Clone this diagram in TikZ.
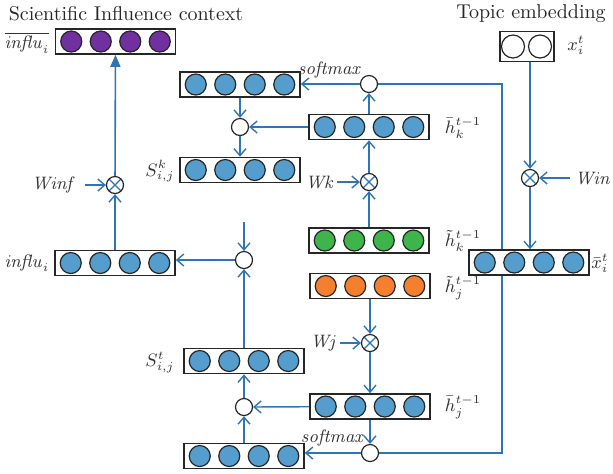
\documentclass[tikz,border=0pt]{standalone}
\usepackage{amsmath}
\usetikzlibrary{positioning, calc, arrows.meta, backgrounds}
\definecolor{Link}{HTML}{2E75B6}
\definecolor{Unit}{HTML}{549DCC}
\definecolor{Plum}{HTML}{7030A0}
\definecolor{Leaf}{HTML}{3DB54A}
\definecolor{Amber}{HTML}{F47F2E}
\tikzset{
    vecbox/.style={rectangle, draw=black!85, line width=0.8pt, fill=white, minimum width=60pt, minimum height=12.5pt, inner sep=0pt},
    unit/.style={circle, draw=black!85, line width=0.6pt, minimum size=10.5pt, inner sep=0pt},
    gate/.style={circle, draw=black!85, line width=0.6pt, fill=white, minimum size=8.5pt, inner sep=0pt},
    mult/.style={gate, path picture={\draw[Link, line width=0.6pt] (path picture bounding box.north west) -- (path picture bounding box.south east) (path picture bounding box.north east) -- (path picture bounding box.south west);}},
    link/.style={-{Straight Barb[length=3.5pt,width=6pt]}, Link, line width=0.7pt},
    flow/.style={-{Triangle[length=6pt,width=5pt]}, Link, line width=0.8pt},
    lab/.style={font=\small, text=black!80, inner sep=1pt},
}
% bar of four units: name, position, colour
\newcommand{\vecbar}[3]{%
    \node[vecbox] (#1) at (#2) {};
    \foreach \k [count=\n] in {-1.5,-0.5,0.5,1.5}
        \node[unit, fill=#3] (#1-\n) at ($(#1)+(\k*29.5,0)$) {};
}

\begin{document}
\begin{tikzpicture}[x=0.5pt, y=-0.5pt]
\useasboundingbox (0,0) rectangle (613,473);

% Titles
\node[font=\normalsize, text=black!85] (title-inf) at (126,14) {Scientific Influence context};
\node[font=\normalsize, text=black!85] (title-top) at (531,14) {Topic embedding};

% Influence side
\vecbar{influbar}{115.5,41.5}{Plum}
\node[lab] (l-influbar) at (27,43) {$\overline{\mathit{influ}_i}$};
\node[mult] (mulinf) at (115,185) {};
\node[lab] (l-winf) at (54,185) {$\mathit{Winf}$};
\coordinate (in-winf) at (85,185);
\vecbar{influ}{115,263}{Unit}
\node[lab] (l-influ) at (27,263) {$\mathit{influ}_i$};

% Upper attention (k)
\vecbar{attk}{240,84.5}{Unit}
\node[lab] (l-smk) at (330,70) {$\mathit{softmax}$};
\node[gate] (smk) at (369,84) {};
\vecbar{hkbar}{369,127}{Unit}
\node[lab] (l-hkbar) at (463,128) {$\bar{h}_k^{t-1}$};
\node[gate] (mixk) at (240,127) {};
\vecbar{sk}{240,170}{Unit}
\node[lab] (l-sk) at (160,171) {$S_{i,j}^{k}$};
\node[mult] (mulk) at (369,182) {};
\node[lab] (l-wk) at (320,182) {$\mathit{Wk}$};
\coordinate (in-wk) at (337,182);
\vecbar{hktil}{369,240.5}{Leaf}
\node[lab] (l-hktil) at (463,241) {$\tilde{h}_k^{t-1}$};

% Lower attention (j)
\node[gate] (mixj) at (244,260) {};
\coordinate (in-mixj) at (244,222);
\vecbar{hjtil}{370,286}{Amber}
\node[lab] (l-hjtil) at (463,288) {$\tilde{h}_j^{t-1}$};
\node[mult] (mulj) at (370,343) {};
\node[lab] (l-wj) at (324,343) {$\mathit{Wj}$};
\coordinate (in-wj) at (340,343);
\vecbar{st}{244,361}{Unit}
\node[lab] (l-st) at (160,362) {$S_{i,j}^{t}$};
\vecbar{hjbar}{370,406.5}{Unit}
\node[lab] (l-hjbar) at (463,407) {$\bar{h}_j^{t-1}$};
\node[gate] (mixt) at (244,407) {};
\vecbar{attj}{244,456}{Unit}
\node[lab] (l-smj) at (333,438) {$\mathit{softmax}$};
\node[gate] (smj) at (370,453) {};

% Topic side
\node[vecbox, minimum width=27pt, minimum height=15pt] (topic) at (527,46.5) {};
\node[unit, fill=white, minimum size=11.5pt] (topic-1) at (513,46.5) {};
\node[unit, fill=white, minimum size=11.5pt] (topic-2) at (540,46.5) {};
\node[lab] (l-topic) at (576,45) {$x_i^t$};
\node[mult] (mulin) at (530,178) {};
\node[lab] (l-win) at (593,178) {$\mathit{Win}$};
\coordinate (in-win) at (570,178);
\vecbar{xbar}{529,262.5}{Unit}
\node[lab] (l-xbar) at (600,263) {$\bar{x}_i^t$};

% Connectors
\coordinate (route) at (502,270);
\begin{pgfonlayer}{background}
\draw[Link, line width=0.7pt] (smk.east) -| (route) |- (smj.east);
\end{pgfonlayer}
\draw[flow] (mulinf) -- (influbar);
\draw[link] (influ) -- (mulinf);
\draw[link] (in-winf) -- (mulinf);
\draw[link] (mixj) -- (influ.east |- mixj);
\draw[link] (in-mixj) -- (mixj);
\draw[link] (st) -- (mixj);
\draw[link] (attk) -- (mixk);
\draw[link] (hkbar) -- (mixk);
\draw[link] (mixk) -- (sk);
\draw[link] (hkbar) -- (smk);
\draw[link] (smk) -- (attk.east |- smk);
\draw[link] (hktil) -- (mulk);
\draw[link] (in-wk) -- (mulk);
\draw[link] (mulk) -- (hkbar);
\draw[link] (hjtil) -- (mulj);
\draw[link] (in-wj) -- (mulj);
\draw[link] (mulj) -- (hjbar);
\draw[link] (hjbar) -- (mixt);
\draw[link] (attj) -- (mixt);
\draw[link] (mixt) -- (st);
\draw[link] (hjbar) -- (smj);
\draw[link] (smj) -- (attj.east |- smj);
\draw[link] (topic.south -| mulin) -- (mulin);
\draw[link] (in-win) -- (mulin);
\draw[link] (mulin) -- (xbar.north -| mulin);
\end{tikzpicture}
\end{document}
